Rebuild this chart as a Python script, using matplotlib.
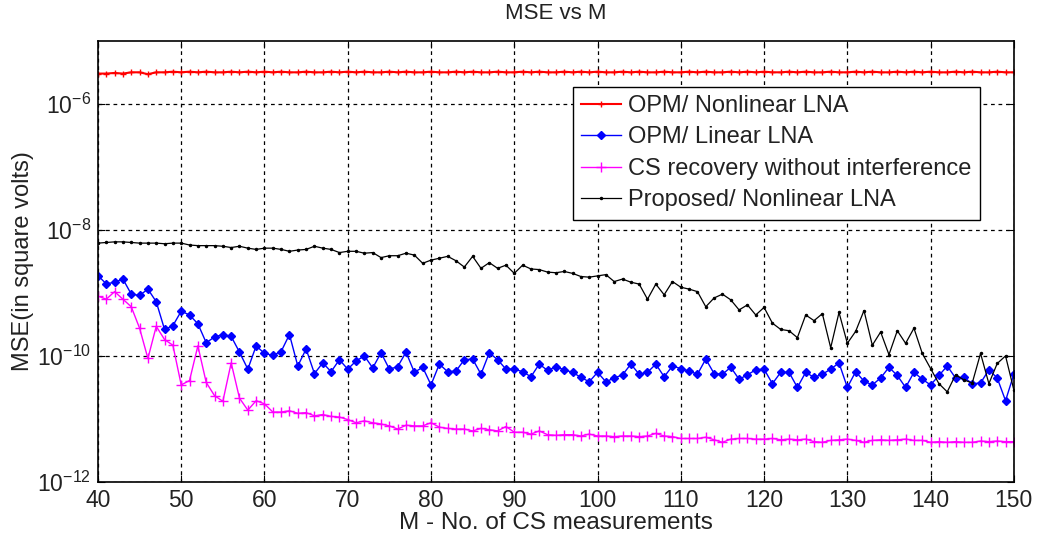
# import required libraries
import numpy as np
import matplotlib
matplotlib.use("Agg")
import matplotlib.pyplot as plt

plt.rcParams['font.family'] = ['Liberation Sans', 'DejaVu Sans']

# number of CS measurements
M = list(range(40, 151))

# log10 of the MSE for each curve, one value per M
opm_nonlinear_exp = [
    -5.52, -5.52, -5.51, -5.52, -5.50, -5.50, -5.53, -5.50, -5.50, -5.49,
    -5.50, -5.49, -5.50, -5.49, -5.50, -5.50, -5.49, -5.50, -5.49, -5.50,
    -5.49, -5.50, -5.49, -5.50, -5.50, -5.49, -5.50, -5.50, -5.49, -5.50,
    -5.49, -5.50, -5.49, -5.50, -5.50, -5.49, -5.50, -5.49, -5.50, -5.50,
    -5.49, -5.50, -5.50, -5.49, -5.50, -5.49, -5.50, -5.50, -5.49, -5.50,
    -5.50, -5.49, -5.50, -5.49, -5.50, -5.50, -5.49, -5.50, -5.49, -5.50,
    -5.49, -5.50, -5.50, -5.49, -5.50, -5.49, -5.50, -5.50, -5.49, -5.50,
    -5.50, -5.49, -5.50, -5.49, -5.50, -5.50, -5.49, -5.50, -5.49, -5.50,
    -5.49, -5.50, -5.50, -5.49, -5.50, -5.49, -5.50, -5.50, -5.49, -5.50,
    -5.50, -5.49, -5.50, -5.49, -5.50, -5.50, -5.49, -5.50, -5.49, -5.50,
    -5.49, -5.50, -5.50, -5.49, -5.50, -5.49, -5.50, -5.50, -5.49, -5.50,
    -5.50,
]

opm_linear_exp = [
    -8.725, -8.857, -8.83, -8.78, -9.02, -9.04, -8.94, -9.14, -9.58, -9.52,
    -9.29, -9.35, -9.49, -9.79, -9.70, -9.66, -9.69, -9.94, -10.21, -9.84,
    -9.96, -9.99, -9.93, -9.66, -10.16, -9.89, -10.28, -10.11, -10.25, -10.06,
    -10.21, -10.08, -10.00, -10.19, -9.95, -10.21, -10.17, -9.94, -10.26, -10.18,
    -10.46, -10.13, -10.25, -10.24, -10.06, -10.05, -10.29, -9.95, -10.06, -10.21,
    -10.21, -10.25, -10.33, -10.13, -10.23, -10.17, -10.22, -10.26, -10.34, -10.41,
    -10.26, -10.41, -10.35, -10.30, -10.13, -10.29, -10.26, -10.13, -10.33, -10.16,
    -10.20, -10.24, -10.29, -10.05, -10.28, -10.29, -10.18, -10.37, -10.30, -10.22,
    -10.21, -10.44, -10.26, -10.26, -10.50, -10.26, -10.34, -10.29, -10.21, -10.11,
    -10.50, -10.25, -10.40, -10.46, -10.35, -10.18, -10.31, -10.50, -10.26, -10.37,
    -10.46, -10.31, -10.16, -10.35, -10.34, -10.44, -10.43, -10.22, -10.35, -10.71,
    -10.29,
]

cs_clean_exp = [
    -9.05, -9.10, -8.98, -9.10, -9.22, -9.56, -10.04, -9.53, -9.74, -9.83,
    -10.46, -10.39, -9.84, -10.42, -10.63, -10.72, -10.11, -10.67, -10.86, -10.71,
    -10.76, -10.89, -10.89, -10.87, -10.91, -10.90, -10.95, -10.93, -10.96, -10.97,
    -11.01, -11.06, -11.03, -11.06, -11.08, -11.11, -11.16, -11.10, -11.11, -11.11,
    -11.06, -11.13, -11.15, -11.16, -11.16, -11.19, -11.15, -11.17, -11.19, -11.12,
    -11.21, -11.21, -11.24, -11.19, -11.25, -11.26, -11.25, -11.25, -11.27, -11.24,
    -11.27, -11.27, -11.28, -11.27, -11.27, -11.28, -11.27, -11.23, -11.27, -11.28,
    -11.31, -11.31, -11.31, -11.29, -11.33, -11.37, -11.32, -11.31, -11.31, -11.32,
    -11.32, -11.31, -11.33, -11.32, -11.33, -11.32, -11.36, -11.37, -11.34, -11.33,
    -11.32, -11.34, -11.37, -11.34, -11.33, -11.34, -11.33, -11.32, -11.34, -11.34,
    -11.37, -11.36, -11.37, -11.36, -11.37, -11.37, -11.35, -11.36, -11.35, -11.36,
    -11.36,
]

proposed_exp = [
    -8.21, -8.20, -8.19, -8.19, -8.20, -8.21, -8.21, -8.21, -8.22, -8.21,
    -8.21, -8.24, -8.25, -8.25, -8.25, -8.26, -8.28, -8.26, -8.29, -8.31,
    -8.29, -8.29, -8.31, -8.34, -8.32, -8.31, -8.26, -8.29, -8.31, -8.36,
    -8.34, -8.34, -8.37, -8.36, -8.44, -8.41, -8.41, -8.37, -8.40, -8.53,
    -8.48, -8.45, -8.42, -8.49, -8.59, -8.42, -8.61, -8.52, -8.61, -8.56,
    -8.69, -8.56, -8.62, -8.63, -8.67, -8.68, -8.66, -8.69, -8.74, -8.75,
    -8.73, -8.71, -8.82, -8.78, -8.83, -8.86, -9.10, -8.86, -9.03, -8.82,
    -8.91, -8.94, -8.98, -9.22, -9.08, -9.02, -9.11, -9.27, -9.19, -9.35,
    -9.23, -9.48, -9.58, -9.60, -9.71, -9.35, -9.44, -9.33, -9.87, -9.31,
    -9.80, -9.61, -9.28, -9.83, -9.62, -9.98, -9.60, -9.80, -9.56, -9.96,
    -10.20, -10.44, -10.57, -10.30, -10.38, -10.43, -9.96, -10.44, -10.12, -10.00,
    -10.54,
]

labels = ['OPM/ Nonlinear LNA', 'OPM/ Linear LNA',
          'CS recovery without interference', 'Proposed/ Nonlinear LNA']

yticks = [1e-12, 1e-10, 1e-8, 1e-6]
ytick_labels = [r'$\mathregular{10^{-12}}$', r'$\mathregular{10^{-10}}$',
                r'$\mathregular{10^{-8}}$', r'$\mathregular{10^{-6}}$']

# convert exponents back to square volts
to_mse = lambda e: np.power(10.0, np.array(e))

fig = plt.figure(figsize=(10.42, 5.44), dpi=100)
ax = fig.add_axes([0.094, 0.114, 0.879, 0.811])

ax.plot(M, to_mse(opm_nonlinear_exp), color='red', lw=1.5,
        marker='+', ms=5, mew=1, label=labels[0])
ax.plot(M, to_mse(opm_linear_exp), color='blue', lw=1,
        marker='D', ms=4.3, mew=1, label=labels[1])
ax.plot(M, to_mse(cs_clean_exp), color='magenta', lw=1,
        marker='+', ms=7, mew=1, label=labels[2])
ax.plot(M, to_mse(proposed_exp), color='black', lw=0.9,
        marker='.', ms=3, label=labels[3])

ax.set_yscale('log')
ax.set_xlim(40, 150)
ax.set_ylim(1e-12, 1e-5)
ax.set_xticks(range(40, 151, 10))
ax.set_yticks(yticks)
ax.set_yticklabels(ytick_labels)
ax.yaxis.set_minor_locator(matplotlib.ticker.NullLocator())
ax.tick_params(direction='in', top=True, right=True, length=5,
               labelsize=16.5, pad=5, labelcolor='#222222')

# dashed grid in the matlab style
ax.grid(True, color='black', linestyle=(0, (3, 3)), linewidth=0.9)
for s in ax.spines.values():
    s.set_linewidth(1.2)

ax.set_title('MSE vs M', fontsize=16, pad=16, color='#222222')
ax.set_xlabel('M - No. of CS measurements', fontsize=17.5, labelpad=0,
              color='#222222')
ax.set_ylabel('MSE(in square volts)', fontsize=17, labelpad=2,
              color='#222222')

leg = ax.legend(loc='upper right', bbox_to_anchor=(0.963, 0.896),
                borderaxespad=0, fontsize=17, handlelength=1.7,
                handletextpad=0.3, labelspacing=0.4, fancybox=False,
                framealpha=1, edgecolor='black', borderpad=0.35)
leg.get_frame().set_linewidth(1.0)
for t in leg.get_texts():
    t.set_color('#222222')

plt.savefig('out.png', dpi=100)
